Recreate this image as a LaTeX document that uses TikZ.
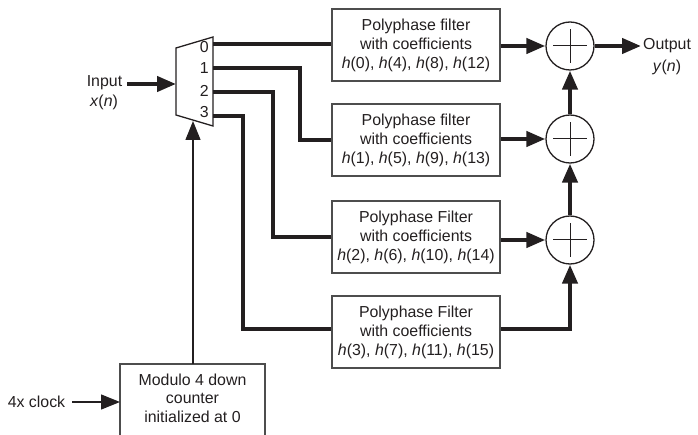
\documentclass[tikz,border=0pt]{standalone}
\usepackage{fontspec}
\setmainfont{Liberation Sans}
\usetikzlibrary{arrows.meta}
\definecolor{ink}{HTML}{231F20}
\definecolor{boxgray}{HTML}{4D4D4D}
\begin{document}
\begin{tikzpicture}[x=1pt,y=-1pt,
  txt/.style={font=\fontsize{15.9pt}{19pt}\selectfont, text=ink, inner sep=0pt, align=center},
  filter/.style={txt, draw=boxgray, line width=1.6pt, minimum width=168pt, minimum height=72pt},
  sum/.style={circle, draw=ink, line width=1.3pt, minimum size=48pt, inner sep=0pt},
  wire/.style={draw=ink, line width=4.2pt},
  thinw/.style={draw=ink, line width=1.3pt},
  tipa/.tip={Triangle[length=19pt,width=15pt]},
  >=tipa]
\useasboundingbox (0,0) rectangle (698,435);
\clip (0,0) rectangle (698,435);

% multiplexer
\coordinate (mtl) at (176,48);
\coordinate (mtr) at (213,37);
\coordinate (mbr) at (213,126);
\coordinate (mbl) at (176,115);
\draw[thinw] (mtl) -- (mtr) -- (mbr) -- (mbl) -- cycle;
\node[txt, anchor=east] (l0) at (209,47) {0};
\node[txt, anchor=east] (l1) at (209,68) {1};
\node[txt, anchor=east] (l2) at (209,91) {2};
\node[txt, anchor=east] (l3) at (209,112) {3};
\coordinate (p0) at (213,44);
\coordinate (p1) at (213,68);
\coordinate (p2) at (213,92);
\coordinate (p3) at (213,116);

% filters
\node[filter] (f0) at (416,45) {Polyphase filter\\with coefficients\\\textit{h}(0), \textit{h}(4), \textit{h}(8), \textit{h}(12)};
\node[filter] (f1) at (416,140) {Polyphase filter\\with coefficients\\\textit{h}(1), \textit{h}(5), \textit{h}(9), \textit{h}(13)};
\node[filter] (f2) at (416,237) {Polyphase Filter\\with coefficients\\\textit{h}(2), \textit{h}(6), \textit{h}(10), \textit{h}(14)};
\node[filter] (f3) at (416,332) {Polyphase Filter\\with coefficients\\\textit{h}(3), \textit{h}(7), \textit{h}(11), \textit{h}(15)};

% summers
\node[sum] (s0) at (570,46) {};
\node[sum] (s1) at (570,139) {};
\node[sum] (s2) at (570,240) {};
\foreach \s in {s0,s1,s2}{
  \draw[ink, line width=1pt] ([xshift=-17pt]\s.center) -- ([xshift=17pt]\s.center);
  \draw[ink, line width=1pt] ([yshift=-17pt]\s.center) -- ([yshift=17pt]\s.center);
}

% mux to filters
\draw[wire] (p0) -- (f0.west |- p0);
\draw[wire] (p1) -- (300,68) |- (f1.west);
\draw[wire] (p2) -- (273,92) |- (f2.west);
\draw[wire] (p3) -- (243,116) |- ([yshift=3pt]f3.west);

% filters to summers
\draw[wire,->] (f0.east |- s0) -- (s0.west);
\draw[wire,->] (f1.east |- s1) -- (s1.west);
\draw[wire,->] (f2.east |- s2) -- (s2.west);
\draw[wire,->] ([yshift=3pt]f3.east) -| (s2.south);
\draw[wire,->] (s2.north) -- (s1.south);
\draw[wire,->] (s1.north) -- (s0.south);

% output
\coordinate (oa) at (641,46);
\draw[wire,->] (s0.east) -- (oa);
\node[txt, anchor=west] (out) at (643,46) {Output};
\node[txt] (yn) at (667,67) {\textit{y}(\textit{n})};

% input
\node[txt] (inp) at (104.5,83) {Input};
\node[txt] (xn) at (104,102) {\textit{x}(\textit{n})};
\coordinate (ina) at (127,84);
\coordinate (inb) at (176,84);
\draw[wire,->] (ina) -- (inb);

% counter
\draw[draw=boxgray, line width=1.6pt] (120,440) -- (120,364) -- (265,364) -- (265,440);
\node[txt, font=\fontsize{15.9pt}{18.5pt}\selectfont] (cnt) at (192.5,398) {Modulo 4 down\\counter\\initialized at 0};
\coordinate (ctop) at (193,364);
\coordinate (mux) at (193,121);
\draw[thinw,->] (ctop) -- (mux);

% clock
\node[txt] (clk) at (36.5,402) {4x clock};
\coordinate (ck) at (72,402);
\coordinate (ckb) at (120,402);
\draw[thinw,->] (ck) -- (ckb);
\end{tikzpicture}
\end{document}
